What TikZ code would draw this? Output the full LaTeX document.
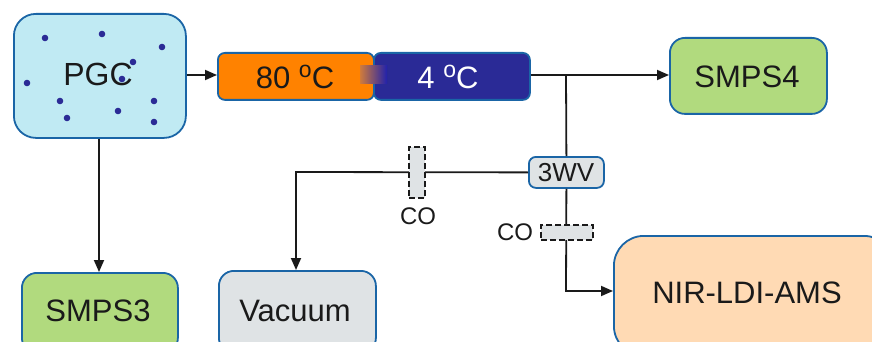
\documentclass[tikz,border=0pt]{standalone}
\usepackage{fontspec}
\setmainfont{Liberation Sans}
\usetikzlibrary{arrows.meta}
\definecolor{bordblue}{HTML}{1A65A6}
\definecolor{pgcfill}{HTML}{C0EAF3}
\definecolor{orangebox}{HTML}{FF8200}
\definecolor{darkbox}{HTML}{2A2A96}
\definecolor{greenbox}{HTML}{B1DA7E}
\definecolor{graybox}{HTML}{DFE3E5}
\definecolor{peachbox}{HTML}{FFDAB4}
\definecolor{dotcol}{HTML}{2B2B96}
\definecolor{txt}{HTML}{1A1A1A}
\newcommand{\degsym}{\raisebox{0.36em}{\fontsize{23}{23}\selectfont o}}
\tikzset{
  x=1pt, y=-1pt,
  boxbase/.style={draw=bordblue, line width=1.8pt, inner sep=0pt, text=txt, font=\fontsize{31}{31}\selectfont, anchor=north west},
  conn/.style={line width=1.8pt, draw=txt},
  arr/.style={conn, -{Triangle[length=12pt,width=10pt]}},
  valve/.style={draw=txt, fill=graybox, line width=2pt, dash pattern=on 6pt off 3pt, inner sep=0pt, anchor=north west},
  smalltxt/.style={text=txt, font=\fontsize{24}{24}\selectfont, inner sep=0pt},
  bigtxt/.style={text=txt, font=\fontsize{31}{31}\selectfont, inner sep=0pt},
}
\begin{document}
\begin{tikzpicture}
\useasboundingbox (0,0) rectangle (872,342);
\clip (0,0) rectangle (872,342);
% PGC
\node[boxbase, fill=pgcfill, rounded corners=22pt, minimum width=172pt, minimum height=124pt] (pgc) at (13,13) {};
\node[bigtxt, font=\fontsize{32}{32}\selectfont] (pgct) at (98,74) {PGC};
\foreach \px/\py in {45/38,102/34,162/47,133/62,122/79,27/83,60/101,154/101,118/111,67/118,154/122}
  \fill[dotcol] (\px,\py) circle (3.3pt);
% temperature boxes
\node[boxbase, fill=orangebox, rounded corners=7pt, minimum width=156pt, minimum height=47pt] (hot) at (217,52) {};
\node[boxbase, fill=darkbox, rounded corners=7pt, minimum width=156pt, minimum height=47pt] (cold) at (373,52) {};
\shade[left color=orangebox!75!darkbox!90!white, right color=darkbox!80!blue] (360,66) rectangle (387,84);
\node[bigtxt] (hott) at (295,77) {80 \degsym C};
\node[bigtxt, text=white] (coldt) at (448,77) {4 \degsym C};
% SMPS4
\node[boxbase, fill=greenbox, rounded corners=15pt, minimum width=157pt, minimum height=76pt] (smps4) at (669,37) {};
\node[bigtxt] (smps4t) at (747,77) {SMPS4};
% 3WV
\node[draw=bordblue, line width=1.8pt, fill=graybox, rounded corners=7pt, minimum width=75pt, minimum height=31pt, inner sep=0pt, anchor=north west] (twv) at (528,156) {};
\node[smalltxt, font=\fontsize{26}{26}\selectfont] (twvt) at (566,173) {3WV};
% bottom boxes
\node[boxbase, fill=greenbox, rounded corners=15pt, minimum width=156pt, minimum height=80pt] (smps3) at (21,272) {};
\node[bigtxt] (smps3t) at (98,311) {SMPS3};
\node[boxbase, fill=graybox, rounded corners=15pt, minimum width=157pt, minimum height=82pt] (vac) at (218,270) {};
\node[bigtxt] (vact) at (295,311) {Vacuum};
\node[boxbase, fill=peachbox, rounded corners=30pt, minimum width=280pt, minimum height=120pt] (nir) at (613,235) {};
\node[bigtxt] (nirt) at (747,293) {NIR-LDI-AMS};
% junction coordinates
\coordinate (j1) at (566,75);
\coordinate (vtop) at (296,172);
\coordinate (nirc) at (566,291);
% connectors
\draw[arr] (pgc.east |- 0,75) -- (hot.west |- 0,75);
\draw[arr] (cold.east |- 0,75) -- (smps4.west |- 0,75);
\draw[conn] (j1) -- (twv.north);
\draw[arr] (pgc.south -| 99,0) -- (smps3.north -| 99,0);
\draw[arr] (twv.west) -- (vtop) -- (vac.north -| vtop);
\draw[arr] (twv.south) -- (nirc) -- (nir.west |- nirc);
% CO valves
\node[valve, minimum width=16pt, minimum height=51pt] (co1) at (408,146) {};
\node[smalltxt] (co1t) at (418,216) {CO};
\node[valve, minimum width=52pt, minimum height=15pt] (co2) at (540,224) {};
\node[smalltxt] (co2t) at (515,232) {CO};
\end{tikzpicture}
\end{document}
